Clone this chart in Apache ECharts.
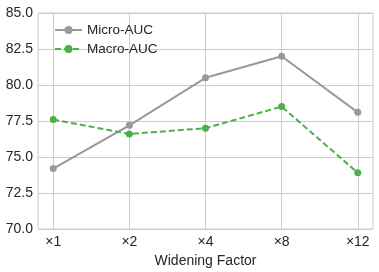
<!DOCTYPE html>
<html><head><meta charset="utf-8">
<script src="https://cdn.jsdelivr.net/npm/echarts@6/dist/echarts.min.js"></script>
<style>html,body{margin:0;padding:0;background:#fff}#c{width:379px;height:272px}</style>
</head><body><div id="c"></div>
<script>
var categories = ['×1', '×2', '×4', '×8', '×12'];
var microAUC = [74.2, 77.2, 80.5, 82.0, 78.1];
var macroAUC = [77.6, 76.6, 77.0, 78.5, 73.9];
var yTicks = [70.0, 72.5, 75.0, 77.5, 80.0, 82.5, 85.0];

var chart = echarts.init(document.getElementById('c'), null, {renderer: 'canvas'});
var font = 'Liberation Sans, Arial, sans-serif';
var idx = categories.map(function (_, i) { return i; });
function pts(arr) { return arr.map(function (v, i) { return [i, v]; }); }
chart.setOption({
  animation: false,
  backgroundColor: '#ffffff',
  grid: {left: 38, right: 6, top: 13, bottom: 43, show: true, borderColor: '#cccccc', borderWidth: 1,
    containLabel: false, outerBoundsMode: 'none'},
  legend: {
    left: 49, top: 18, orient: 'vertical', itemGap: 5, itemWidth: 27, itemHeight: 10,
    textStyle: {fontFamily: font, fontSize: 13.5, color: '#262626'},
    data: ['Micro-AUC', 'Macro-AUC']
  },
  xAxis: {
    type: 'value', min: -0.2, max: 4.2,
    name: 'Widening Factor', nameLocation: 'middle', nameGap: 22,
    nameTextStyle: {fontFamily: font, fontSize: 14, color: '#262626'},
    axisLine: {show: false}, axisTick: {show: false, customValues: idx},
    axisLabel: {customValues: idx, fontFamily: font, fontSize: 14, color: '#262626', margin: 6,
      formatter: function (v) { return categories[Math.round(v)]; }},
    splitLine: {show: true, lineStyle: {color: '#cccccc', width: 1}}
  },
  yAxis: {
    type: 'value', min: 70, max: 85, interval: 2.5,
    axisLine: {show: false}, axisTick: {show: false},
    axisLabel: {fontFamily: font, fontSize: 14, color: '#262626', margin: 5,
      formatter: function (v) { return v.toFixed(1); }},
    splitLine: {show: true, lineStyle: {color: '#cccccc', width: 1}}
  },
  series: [
    {name: 'Micro-AUC', type: 'line', data: pts(microAUC), symbol: 'circle', symbolSize: 7,
      color: '#999999', lineStyle: {width: 2, color: '#999999'}, itemStyle: {color: '#999999'}},
    {name: 'Macro-AUC', type: 'line', data: pts(macroAUC), symbol: 'circle', symbolSize: 7,
      color: '#4daf4a', lineStyle: {width: 2, type: [6, 3], color: '#4daf4a'}, itemStyle: {color: '#4daf4a'}}
  ]
});
</script></body></html>
